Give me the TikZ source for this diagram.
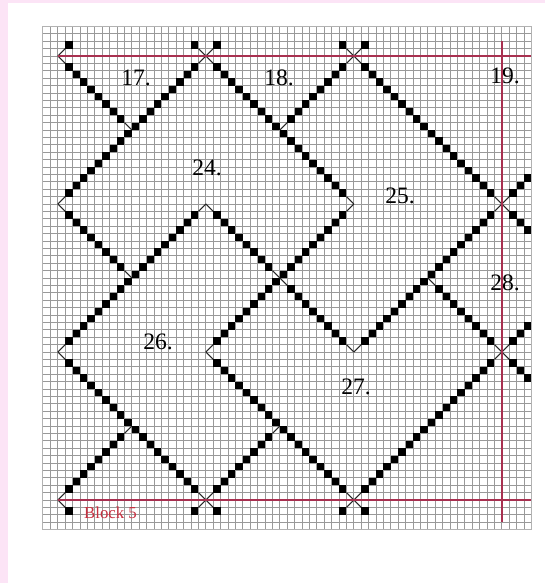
\documentclass[tikz,border=0pt]{standalone}
\usepackage{fontspec}
\setmainfont{Liberation Serif}
\definecolor{pinkbg}{HTML}{FCE4F6}
\definecolor{redline}{HTML}{A83050}
\definecolor{redtext}{HTML}{C83040}
\tikzset{
  gridedge/.style={draw=black!30,line width=0.8pt},
  gridline/.style={draw=black!40,line width=0.5pt},
  stub/.style={draw=black!85,line width=0.8pt},
  bead/.style={fill=black,draw=none},
  redrule/.style={draw=redline,line width=0.9pt},
  numlabel/.style={font=\fontsize{17.5}{17.5}\selectfont,text=black,inner sep=0pt},
}
% grid unit = 7.4 px; origin at (57.8,56) px, y down
\newcommand{\bead}[2]{\fill[bead] ({#1},{-(#2)}) ++(-0.49,-0.49) rectangle ++(0.98,0.98);}
% \edgerun{x0}{y0}{dx}{dy}{n squares}{stub at far end 0/1}
\newcommand{\edgerun}[6]{%
  \draw[stub] (#1,{-(#2)}) -- ({#1+#3},{-(#2)-(#4)});
  \foreach \k in {1,...,#5}{\bead{#1+(\k+0.5)*(#3)}{#2+(\k+0.5)*(#4)}}
  \ifnum#6=1 \draw[stub] ({#1+(#5+1)*(#3)},{-(#2)-(#5+1)*(#4)}) -- ({#1+(#5+2)*(#3)},{-(#2)-(#5+2)*(#4)});\fi
}
\begin{document}
\begin{tikzpicture}[x=5.5pt,y=5.5pt]
\def\ux{7.4}
\useasboundingbox ({-57.8/\ux},{56/\ux}) rectangle ({(545-57.8)/\ux},{-(583-56)/\ux});
\fill[pinkbg] ({-57.8/\ux},{56/\ux}) rectangle ({(545-57.8)/\ux},{-(583-56)/\ux});
\fill[white] ({-49.8/\ux},{53/\ux}) rectangle ({(545-57.8)/\ux},{-(583-56)/\ux});
% grid
\foreach \i in {-1,...,63}{
  \draw[gridline] (\i,4) -- (\i,-64);
}
\foreach \j in {-3,...,63}{
  \draw[gridline] (-2.1,{-\j}) -- (64,{-\j});
}
\draw[gridedge] (-2.1,4) rectangle (64,-64);
% top and bottom short ends
\edgerun{0}{0}{1}{-1}{1}{0}
\edgerun{20}{0}{-1}{-1}{1}{0}
\edgerun{20}{0}{1}{-1}{1}{0}
\edgerun{40}{0}{-1}{-1}{1}{0}
\edgerun{40}{0}{1}{-1}{1}{0}
\edgerun{0}{60}{1}{1}{1}{0}
\edgerun{20}{60}{-1}{1}{1}{0}
\edgerun{20}{60}{1}{1}{1}{0}
\edgerun{40}{60}{-1}{1}{1}{0}
\edgerun{40}{60}{1}{1}{1}{0}
% long runs
\edgerun{0}{0}{1}{1}{8}{1}
\edgerun{20}{0}{-1}{1}{18}{1}
\edgerun{20}{0}{1}{1}{18}{1}
\edgerun{40}{0}{-1}{1}{8}{1}
\edgerun{40}{0}{1}{1}{18}{1}
\edgerun{40}{20}{-1}{1}{18}{1}
\edgerun{60}{20}{-1}{1}{18}{1}
\edgerun{40}{40}{-1}{-1}{8}{1}
\edgerun{20}{20}{1}{1}{8}{1}
\edgerun{20}{20}{-1}{1}{18}{1}
\edgerun{0}{20}{1}{1}{8}{1}
\edgerun{0}{40}{1}{1}{18}{1}
\edgerun{20}{40}{1}{1}{18}{1}
\edgerun{0}{60}{1}{-1}{8}{1}
\edgerun{20}{60}{1}{-1}{8}{1}
\edgerun{40}{60}{1}{-1}{18}{1}
\edgerun{60}{40}{-1}{-1}{8}{1}
% right side ends
\edgerun{60}{20}{1}{-1}{3}{0}
\edgerun{60}{20}{1}{1}{3}{0}
\edgerun{60}{40}{1}{-1}{3}{0}
\edgerun{60}{40}{1}{1}{3}{0}
% labels
\node[numlabel] (l17) at ({(136-57.8)/\ux},{-(78-56)/\ux}) {17.};
\node[numlabel] (l18) at ({(279-57.8)/\ux},{-(78-56)/\ux}) {18.};
\node[numlabel] (l19) at ({(505-57.8)/\ux},{-(76-56)/\ux}) {19.};
\node[numlabel] (l24) at ({(207-57.8)/\ux},{-(168-56)/\ux}) {24.};
\node[numlabel] (l25) at ({(400-57.8)/\ux},{-(196-56)/\ux}) {25.};
\node[numlabel] (l26) at ({(158-57.8)/\ux},{-(342-56)/\ux}) {26.};
\node[numlabel] (l27) at ({(356-57.8)/\ux},{-(387-56)/\ux}) {27.};
\node[numlabel] (l28) at ({(505-57.8)/\ux},{-(283-56)/\ux}) {28.};
\node[font=\fontsize{12.5}{12.5}\selectfont,text=redtext,inner sep=0pt] (blk) at ({(110.5-57.8)/\ux},{-(513-56)/\ux}) {Block 5};
% red rules on top
\coordinate (htl) at (0,0); \coordinate (htr) at (64,0);
\coordinate (hbl) at (0,-60); \coordinate (hbr) at (64,-60);
\coordinate (vtop) at (60,2); \coordinate (vbot) at (60,-63);
\draw[redrule] (htl) -- (htr);
\draw[redrule] (hbl) -- (hbr);
\draw[redrule,line width=1.1pt] (vtop) -- (vbot);
\end{tikzpicture}
\end{document}
